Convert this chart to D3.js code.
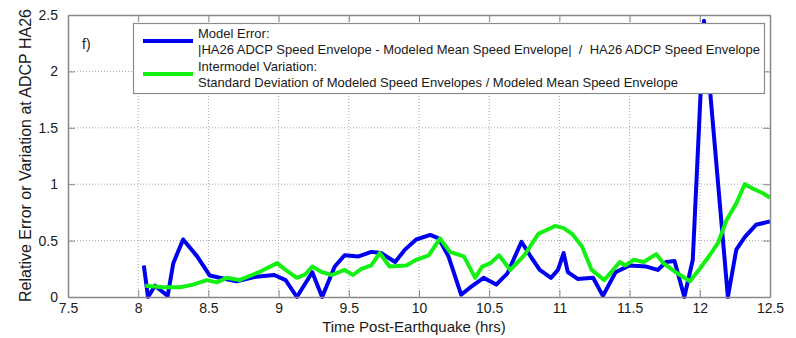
<!DOCTYPE html>
<html>
<head>
<meta charset="utf-8">
<script src="https://cdn.jsdelivr.net/npm/d3@7/dist/d3.min.js"></script>
<style>
  html, body { margin: 0; padding: 0; background: #fff; }
  svg { display: block; font-family: "Liberation Sans", Arial, sans-serif; }
</style>
</head>
<body>
<svg id="chart" width="796" height="338"></svg>
<script>
// ---- data ----
const blueX = [8.04, 8.07, 8.12, 8.21, 8.25, 8.32, 8.42, 8.51, 8.58, 8.70, 8.84, 8.97, 9.05, 9.13, 9.24, 9.31, 9.40, 9.47, 9.57, 9.66, 9.73, 9.83, 9.90, 9.98, 10.08, 10.14, 10.21, 10.30, 10.36, 10.46, 10.55, 10.63, 10.73, 10.79, 10.86, 10.94, 10.99, 11.03, 11.06, 11.13, 11.24, 11.31, 11.40, 11.50, 11.62, 11.70, 11.76, 11.82, 11.89, 11.95, 12.03, 12.20, 12.26, 12.32, 12.40, 12.5];
const blueY = [0.28, 0.0, 0.10, 0.01, 0.30, 0.51, 0.36, 0.19, 0.17, 0.14, 0.18, 0.195, 0.15, 0.0, 0.22, 0.0, 0.27, 0.37, 0.36, 0.40, 0.39, 0.31, 0.42, 0.51, 0.55, 0.52, 0.36, 0.02, 0.08, 0.17, 0.11, 0.21, 0.49, 0.37, 0.24, 0.17, 0.24, 0.39, 0.22, 0.16, 0.17, 0.01, 0.22, 0.28, 0.27, 0.24, 0.31, 0.32, 0.0, 0.33, 2.45, 0.0, 0.42, 0.53, 0.64, 0.67];
const greenX = [8.05, 8.18, 8.30, 8.39, 8.49, 8.56, 8.63, 8.72, 8.86, 8.99, 9.05, 9.13, 9.19, 9.24, 9.31, 9.38, 9.47, 9.53, 9.59, 9.66, 9.72, 9.79, 9.91, 9.98, 10.07, 10.15, 10.22, 10.32, 10.40, 10.45, 10.51, 10.57, 10.65, 10.75, 10.85, 10.97, 11.03, 11.09, 11.16, 11.23, 11.32, 11.43, 11.47, 11.53, 11.60, 11.69, 11.74, 11.84, 11.93, 12.00, 12.07, 12.13, 12.19, 12.26, 12.32, 12.38, 12.45, 12.5];
const greenY = [0.10, 0.086, 0.086, 0.11, 0.15, 0.13, 0.17, 0.15, 0.22, 0.30, 0.24, 0.17, 0.20, 0.27, 0.22, 0.195, 0.24, 0.195, 0.25, 0.28, 0.39, 0.27, 0.28, 0.33, 0.37, 0.52, 0.40, 0.36, 0.17, 0.27, 0.30, 0.37, 0.24, 0.37, 0.56, 0.63, 0.61, 0.56, 0.45, 0.24, 0.15, 0.31, 0.28, 0.33, 0.31, 0.38, 0.30, 0.21, 0.14, 0.25, 0.37, 0.48, 0.68, 0.83, 1.00, 0.96, 0.92, 0.88];
const xTicks = [7.5, 8, 8.5, 9, 9.5, 10, 10.5, 11, 11.5, 12, 12.5];
const yTicks = [0, 0.5, 1, 1.5, 2, 2.5];
const seriesNames = ["Model Error:", "Intermodel Variation:"];
const seriesDesc = ["|HA26 ADCP Speed Envelope - Modeled Mean Speed Envelope|  /  HA26 ADCP Speed Envelope",
                    "Standard Deviation of Modeled Speed Envelopes / Modeled Mean Speed Envelope"];
const seriesColors = ["#0000f0", "#14f014"];
const xLabel = "Time Post-Earthquake (hrs)";
const yLabel = "Relative Error or Variation at ADCP HA26";
const panelLabel = "f)";

// ---- layout ----
const W = 796, H = 338;
const m = {left: 68, top: 15, right: 26, bottom: 41};
const iw = W - m.left - m.right, ih = H - m.top - m.bottom;
const svg = d3.select("#chart");
const g = svg.append("g").attr("transform", `translate(${m.left},${m.top})`);

const x = d3.scaleLinear().domain([7.5, 12.5]).range([0, iw]);
const y = d3.scaleLinear().domain([0, 2.5]).range([ih, 0]);
const fmt = d => d3.format("")(d);

// grid
const grid = g.append("g").attr("class", "grid");
grid.selectAll("line.vx").data(xTicks.slice(1, -1)).enter().append("line")
  .attr("x1", d => x(d)).attr("x2", d => x(d)).attr("y1", 0).attr("y2", ih)
  .attr("stroke", "#a8a8a8").attr("stroke-width", 1).attr("stroke-dasharray", "1,2");
grid.selectAll("line.hy").data(yTicks.slice(1, -1)).enter().append("line")
  .attr("y1", d => y(d)).attr("y2", d => y(d)).attr("x1", 0).attr("x2", iw)
  .attr("stroke", "#a8a8a8").attr("stroke-width", 1).attr("stroke-dasharray", "1,2");

// lines
const line = d3.line().x(d => x(d[0])).y(d => y(d[1]));
const blueData = blueX.map((v, i) => [v, blueY[i]]);
const greenData = greenX.map((v, i) => [v, greenY[i]]);
g.append("path").datum(blueData).attr("d", line).attr("fill", "none")
  .attr("stroke", seriesColors[0]).attr("stroke-width", 4).attr("stroke-linejoin", "round");
g.append("path").datum(greenData).attr("d", line).attr("fill", "none")
  .attr("stroke", seriesColors[1]).attr("stroke-width", 4).attr("stroke-linejoin", "round");

// axes
const axisColor = "#888";
function styleAxis(sel) {
  sel.select(".domain").attr("stroke", axisColor).attr("stroke-width", 1.5);
  sel.selectAll(".tick line").attr("stroke", axisColor).attr("stroke-width", 1);
  sel.selectAll(".tick text").attr("fill", "#1a1a1a").style("font-size", "14px")
    .style("font-family", "'Liberation Sans', Arial, sans-serif");
}
const xb = g.append("g").attr("transform", `translate(0,${ih})`)
  .call(d3.axisBottom(x).tickValues(xTicks).tickFormat(fmt).tickSizeInner(-7).tickSizeOuter(0).tickPadding(6));
styleAxis(xb);
const xt = g.append("g")
  .call(d3.axisTop(x).tickValues(xTicks).tickFormat("").tickSizeInner(-7).tickSizeOuter(0));
styleAxis(xt);
const yl = g.append("g")
  .call(d3.axisLeft(y).tickValues(yTicks).tickFormat(fmt).tickSizeInner(-7).tickSizeOuter(0).tickPadding(10));
styleAxis(yl);
const yr = g.append("g").attr("transform", `translate(${iw},0)`)
  .call(d3.axisRight(y).tickValues(yTicks).tickFormat("").tickSizeInner(-7).tickSizeOuter(0));
styleAxis(yr);

// labels
svg.append("text").attr("x", m.left + iw / 2 - 5).attr("y", 332)
  .attr("text-anchor", "middle").attr("fill", "#1a1a1a").style("font-size", "15px").text(xLabel);
svg.append("text").attr("transform", `translate(31,155.5) rotate(-90)`)
  .attr("text-anchor", "middle").attr("fill", "#1a1a1a").style("font-size", "16px").text(yLabel);
svg.append("text").attr("x", 82).attr("y", 49).attr("fill", "#1a1a1a").style("font-size", "14px").text(panelLabel);

// legend
const lg = svg.append("g");
lg.append("rect").attr("x", 133.5).attr("y", 23.5).attr("width", 631).attr("height", 70)
  .attr("fill", "#fff").attr("stroke", "#8a8a8a").attr("stroke-width", 1.2);
const legY = [41, 74];
const nameY = [38, 71];
const descY = [53.5, 87];
seriesNames.forEach((n, i) => {
  lg.append("line").attr("x1", 143).attr("x2", 193).attr("y1", legY[i]).attr("y2", legY[i])
    .attr("stroke", seriesColors[i]).attr("stroke-width", 4);
  lg.append("text").attr("x", 198).attr("y", nameY[i]).attr("fill", "#1a1a1a")
    .style("font-size", "13px").text(n);
  lg.append("text").attr("x", 198).attr("y", descY[i]).attr("fill", "#1a1a1a")
    .style("font-size", "13px").style("white-space", "pre").attr("xml:space", "preserve").text(seriesDesc[i]);
});
</script>
</body>
</html>
